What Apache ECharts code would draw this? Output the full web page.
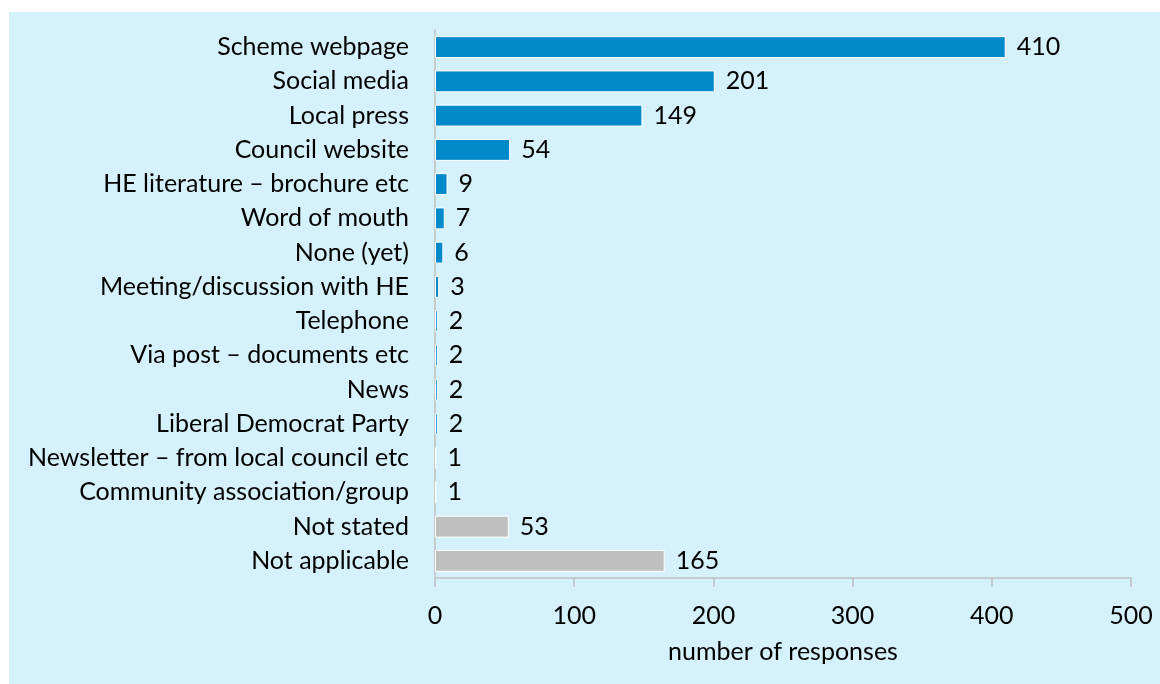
<!DOCTYPE html>
<html>
<head>
<meta charset="utf-8">
<script src="https://cdn.jsdelivr.net/npm/echarts@6/dist/echarts.min.js"></script>
<style>
    html, body { margin: 0; padding: 0; background: #fff; }
    #chart { position: absolute; left: 9px; top: 12px; width: 1151px; height: 672px; background: #d5f1fc; }
</style>
</head>
<body>
<div id="chart"></div>
<script>
// categories top to bottom
const categories = [
    'Scheme webpage', 'Social media', 'Local press', 'Council website',
    'HE literature \u2013 brochure etc', 'Word of mouth', 'None (yet)',
    'Meeting/discussion with HE', 'Telephone', 'Via post \u2013 documents etc',
    'News', 'Liberal Democrat Party', 'Newsletter \u2013 from local council etc',
    'Community association/group', 'Not stated', 'Not applicable'
];
const responses = [410, 201, 149, 54, 9, 7, 6, 3, 2, 2, 2, 2, 1, 1, 53, 165];
const greyCategories = ['Not stated', 'Not applicable'];
const xTicks = [0, 100, 200, 300, 400, 500];

const fontFamily = 'Lato, "Open Sans", sans-serif';

const chart = echarts.init(document.getElementById('chart'));
chart.setOption({
    animation: false,
    textStyle: { fontFamily: fontFamily },
    grid: { left: 426, right: 29, top: 18, height: 548, outerBoundsMode: 'none' },
    xAxis: {
        type: 'value',
        min: xTicks[0],
        max: xTicks[xTicks.length - 1],
        interval: 100,
        name: 'number of responses',
        nameLocation: 'middle',
        nameGap: 61,
        nameTextStyle: { fontSize: 25, color: '#000', fontFamily: fontFamily },
        axisLine: { show: true, lineStyle: { color: '#bfbfbf', width: 1.5 } },
        axisTick: { show: true, length: 9, lineStyle: { color: '#bfbfbf', width: 1.5 } },
        axisLabel: { fontSize: 25, color: '#000', margin: 25 },
        splitLine: { show: false }
    },
    yAxis: {
        type: 'category',
        inverse: true,
        data: categories,
        axisLine: { show: true, lineStyle: { color: '#bfbfbf', width: 1.5 } },
        axisTick: { show: false },
        axisLabel: { fontSize: 25, color: '#000', margin: 26 }
    },
    series: [{
        type: 'bar',
        barCategoryGap: '36%',
        data: responses.map((v, i) => ({
            value: v,
            itemStyle: { color: greyCategories.includes(categories[i]) ? '#bfbfbf' : '#0189ca' }
        })),
        itemStyle: { borderColor: '#fff', borderWidth: 1 },
        label: {
            show: true,
            position: 'right',
            distance: 11,
            fontSize: 25,
            color: '#000'
        }
    }]
});
</script>
</body>
</html>
